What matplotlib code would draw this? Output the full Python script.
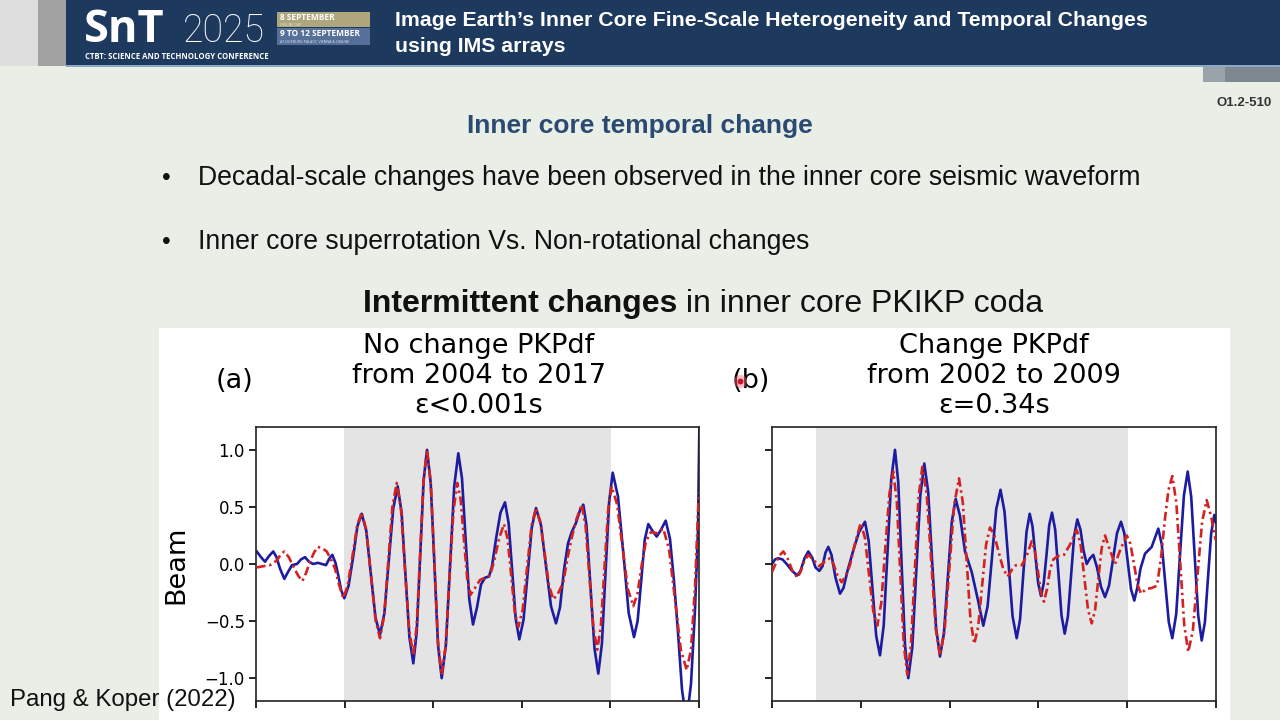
import matplotlib
matplotlib.use("Agg")
import matplotlib.pyplot as plt
from matplotlib.patches import Rectangle
import numpy as np

# ---------------- data (time in s, beam amplitude) ----------------
# Panel (a): No change PKPdf 2004 vs 2017
a_t_blue = [0.07, 0.5, 0.9, 1.3, 1.73, 2.05, 2.4, 2.83, 3.2, 3.6, 4.1, 4.5, 4.9, 5.3, 5.7, 6.2, 6.6, 7.0,
            7.35, 7.63, 7.95, 8.23, 8.52, 8.83, 9.26, 9.73, 10.14, 10.57, 11.03, 11.5, 11.95, 12.4, 12.84,
            13.28, 13.73, 14.17, 14.56, 14.95, 15.34, 15.73, 16.07, 16.42, 16.76, 17.1, 17.47, 17.84, 18.2,
            18.57, 18.99, 19.4, 19.82, 20.23, 20.6, 20.96, 21.33, 21.7, 22.1, 22.5, 22.9, 23.3, 23.6, 24.0,
            24.45, 24.9, 25.26, 25.62, 25.97, 26.33, 26.75, 27.17, 27.58, 28.0, 28.5, 29.0, 29.5, 30.0,
            30.4, 30.8, 31.2, 31.57, 32.0, 32.4, 32.73, 33.05, 33.45, 33.85, 34.23, 34.59, 34.95, 35.31,
            35.67, 36.2, 36.73, 37.27, 37.8, 38.16, 38.52, 38.87, 39.23, 39.65, 40.07, 40.5, 40.97, 41.4,
            41.8, 42.2, 42.6, 43.05, 43.5, 43.9, 44.2, 44.35]
a_blue = [0.11, 0.06, 0.02, 0.07, 0.11, 0.06, -0.04, -0.13, -0.07, -0.01, 0.00, 0.04, 0.06, 0.02, 0.00,
          0.01, 0.00, -0.01, 0.05, 0.08, 0.01, -0.10, -0.23, -0.30, -0.19, 0.07, 0.33, 0.44, 0.29, -0.10,
          -0.47, -0.62, -0.43, 0.03, 0.49, 0.68, 0.45, -0.10, -0.64, -0.87, -0.60, 0.07, 0.73, 1.00, 0.71,
          0.00, -0.71, -1.00, -0.71, -0.02, 0.68, 0.97, 0.75, 0.22, -0.31, -0.53, -0.38, -0.18, -0.12,
          -0.11, -0.02, 0.22, 0.45, 0.54, 0.36, -0.06, -0.48, -0.66, -0.49, -0.08, 0.32, 0.49, 0.34,
          -0.02, -0.37, -0.52, -0.38, -0.05, 0.18, 0.28, 0.36, 0.47, 0.52, 0.34, -0.20, -0.74, -0.96,
          -0.70, -0.08, 0.54, 0.80, 0.59, 0.10, -0.43, -0.64, -0.50, -0.15, 0.21, 0.35, 0.29, 0.24, 0.30,
          0.38, 0.22, -0.15, -0.60, -1.10, -1.38, -1.05, -0.40, 0.30, 1.30]
a_t_red = [0.07, 0.7, 1.4, 2.07, 2.45, 2.83, 3.28, 3.73, 4.2, 4.63, 5.0, 5.4, 5.8, 6.17, 6.6, 7.07, 7.5,
           7.9, 8.3, 8.73, 9.16, 9.65, 10.12, 10.57, 11.03, 11.5, 11.95, 12.4, 12.82, 13.23, 13.65, 14.07,
           14.49, 14.9, 15.32, 15.73, 16.07, 16.42, 16.76, 17.1, 17.47, 17.84, 18.2, 18.57, 18.96, 19.35,
           19.74, 20.13, 20.46, 20.79, 21.12, 21.45, 21.9, 22.4, 22.9, 23.4, 23.8, 24.3, 24.8, 25.16,
           25.52, 25.87, 26.23, 26.67, 27.11, 27.56, 28.0, 28.43, 28.87, 29.3, 29.73, 30.2, 30.73, 31.15,
           31.57, 32.07, 32.57, 32.96, 33.35, 33.74, 34.13, 34.49, 34.85, 35.21, 35.57, 36.11, 36.65,
           37.19, 37.73, 38.15, 38.55, 39.0, 39.5, 40.1, 40.73, 41.3, 41.9, 42.48, 43.07, 43.5, 43.9, 44.28]
a_red = [-0.03, -0.02, -0.01, 0.03, 0.08, 0.11, 0.06, -0.02, -0.10, -0.15, -0.08, 0.02, 0.10, 0.15, 0.14,
         0.11, 0.04, -0.04, -0.18, -0.30, -0.19, 0.07, 0.34, 0.45, 0.30, -0.10, -0.49, -0.65, -0.45, 0.03,
         0.51, 0.71, 0.49, -0.05, -0.58, -0.80, -0.54, 0.10, 0.74, 1.00, 0.72, 0.02, -0.68, -0.97, -0.72,
         -0.13, 0.46, 0.71, 0.57, 0.22, -0.13, -0.27, -0.21, -0.14, -0.12, -0.10, 0.02, 0.22, 0.35, 0.22,
         -0.10, -0.42, -0.55, -0.40, -0.03, 0.34, 0.49, 0.37, 0.09, -0.19, -0.31, -0.26, -0.16, 0.05, 0.23,
         0.40, 0.52, 0.33, -0.12, -0.56, -0.75, -0.54, -0.03, 0.47, 0.68, 0.52, 0.15, -0.22, -0.37, -0.26,
         -0.02, 0.20, 0.28, 0.27, 0.31, 0.13, -0.31, -0.75, -0.93, -0.75, -0.20, 0.63]

# Panel (b): Change PKPdf 2002 vs 2009
b_t_blue = [0.0, 0.3, 0.63, 1.05, 1.47, 2.0, 2.53, 2.85, 3.25, 3.63, 4.0, 4.35, 4.73, 5.05, 5.35, 5.63,
            5.95, 6.35, 6.8, 7.15, 7.55, 8.13, 8.7, 9.3, 9.67, 10.05, 10.42, 10.8, 11.17, 11.55, 11.92,
            12.3, 12.63, 12.96, 13.3, 13.63, 14.03, 14.43, 14.83, 15.23, 15.62, 16.01, 16.41, 16.8, 17.19,
            17.58, 17.98, 18.37, 18.8, 19.3, 19.97, 20.63, 21.13, 21.56, 21.99, 22.42, 22.85, 23.25, 23.66,
            24.06, 24.47, 24.8, 25.12, 25.45, 25.77, 26.05, 26.33, 26.62, 26.9, 27.17, 27.45, 27.72, 28.0,
            28.32, 28.64, 28.95, 29.27, 29.59, 29.9, 30.21, 30.53, 30.85, 31.15, 31.47, 31.8, 32.13, 32.5,
            32.9, 33.3, 33.7, 34.1, 34.5, 34.9, 35.23, 35.56, 35.9, 36.23, 36.55, 36.85, 37.3, 37.97, 38.3,
            38.63, 38.98, 39.33, 39.68, 40.03, 40.42, 40.8, 41.19, 41.57, 41.92, 42.27, 42.62, 42.97, 43.29,
            43.6, 43.92, 44.23, 44.4]
b_blue = [0.00, 0.04, 0.05, 0.04, 0.00, -0.06, -0.10, -0.06, 0.05, 0.11, 0.06, -0.03, -0.06, -0.02, 0.10,
          0.15, 0.08, -0.12, -0.26, -0.21, -0.06, 0.12, 0.28, 0.37, 0.20, -0.22, -0.63, -0.80, -0.54, 0.10,
          0.74, 1.00, 0.71, 0.00, -0.71, -1.00, -0.73, -0.06, 0.60, 0.88, 0.63, 0.03, -0.56, -0.81, -0.61,
          -0.12, 0.37, 0.57, 0.42, 0.11, -0.07, -0.33, -0.54, -0.37, 0.05, 0.48, 0.65, 0.46, 0.00, -0.46,
          -0.65, -0.49, -0.10, 0.28, 0.44, 0.33, 0.08, -0.17, -0.28, -0.17, 0.08, 0.34, 0.45, 0.30, -0.08,
          -0.45, -0.61, -0.46, -0.11, 0.24, 0.39, 0.30, 0.12, 0.00, 0.05, 0.08, -0.03, -0.20, -0.29, -0.19,
          0.04, 0.27, 0.37, 0.27, 0.03, -0.22, -0.32, -0.20, -0.04, 0.09, 0.15, 0.23, 0.31, 0.17, -0.17,
          -0.51, -0.65, -0.44, 0.08, 0.60, 0.81, 0.59, 0.07, -0.45, -0.67, -0.51, -0.12, 0.27, 0.43, 0.36]
b_t_red = [0.0, 0.3, 0.7, 1.13, 1.55, 2.05, 2.53, 2.85, 3.25, 3.63, 4.1, 4.73, 5.25, 5.8, 6.15, 6.55, 6.97,
           7.4, 7.8, 8.3, 8.87, 9.29, 9.7, 10.12, 10.53, 10.93, 11.33, 11.73, 12.13, 12.48, 12.83, 13.18,
           13.53, 13.9, 14.28, 14.65, 15.03, 15.47, 15.92, 16.36, 16.8, 17.27, 17.75, 18.22, 18.7, 19.08,
           19.47, 19.85, 20.23, 20.62, 21.01, 21.41, 21.8, 22.24, 22.68, 23.11, 23.55, 24.0, 24.4, 25.0,
           25.5, 25.97, 26.28, 26.59, 26.89, 27.2, 27.5, 27.8, 28.13, 28.6, 29.2, 29.8, 30.47, 30.85, 31.22,
           31.6, 31.97, 32.3, 32.63, 32.97, 33.3, 33.8, 34.3, 34.85, 35.47, 35.83, 36.2, 36.55, 36.9, 37.4,
           37.97, 38.5, 38.9, 39.3, 39.65, 40.03, 40.43, 40.83, 41.23, 41.63, 42.09, 42.55, 43.01, 43.47,
           43.9, 44.37]
b_red = [-0.07, -0.01, 0.07, 0.11, 0.05, -0.06, -0.12, -0.07, 0.03, 0.08, 0.04, -0.02, 0.02, 0.05, 0.00,
         -0.10, -0.16, -0.10, -0.01, 0.18, 0.36, 0.23, -0.09, -0.41, -0.54, -0.34, 0.14, 0.61, 0.81, 0.55,
         -0.08, -0.71, -0.97, -0.70, -0.06, 0.58, 0.85, 0.61, 0.03, -0.56, -0.80, -0.57, -0.02, 0.52, 0.75,
         0.54, 0.02, -0.49, -0.70, -0.55, -0.19, 0.17, 0.32, 0.25, 0.10, -0.04, -0.11, -0.05, -0.01, -0.01,
         0.08, 0.20, 0.12, -0.06, -0.25, -0.33, -0.22, -0.05, 0.04, 0.07, 0.08, 0.17, 0.30, 0.18, -0.11,
         -0.40, -0.52, -0.41, -0.13, 0.14, 0.25, 0.12, 0.00, 0.13, 0.25, 0.18, 0.00, -0.18, -0.26, -0.22,
         -0.21, -0.19, 0.05, 0.40, 0.65, 0.77, 0.54, 0.00, -0.54, -0.77, -0.58, -0.10, 0.37, 0.56, 0.42, 0.21]

a_window = (8.8, 35.5)
b_window = (4.4, 35.6)
y_ticks = [1.0, 0.5, 0.0, -0.5, -1.0]
y_ticklabels = ["1.0", "0.5", "0.0", "\u22120.5", "\u22121.0"]

BLUE = "#1c1ca0"
RED = "#d42222"
SPAN = "#e4e4e4"

fig = plt.figure(figsize=(12.8, 7.2), dpi=100)
W, H = 1280, 720

# ---------------- slide background (pixel coordinates) ----------------
bg = fig.add_axes([0, 0, 1, 1], zorder=0)
bg.set_xlim(0, W)
bg.set_ylim(H, 0)
bg.axis("off")
bg.add_patch(Rectangle((0, 0), W, H, color="#e9eee6", lw=0))
# header
bg.add_patch(Rectangle((0, 0), 38, 66, color="#dedede", lw=0))
bg.add_patch(Rectangle((38, 0), 28, 66, color="#a2a2a2", lw=0))
bg.add_patch(Rectangle((66, 0), W - 66, 66, color="#1d3a5e", lw=0))
bg.add_patch(Rectangle((66, 65), W - 66, 2, color="#8ea7c4", lw=0))
bg.add_patch(Rectangle((1203, 67), 77, 15, color="#9aa3aa", lw=0))
bg.add_patch(Rectangle((1225, 67), 55, 15, color="#7d8891", lw=0))

bg.text(84, 41.5, "SnT", color="white", fontsize=32.5, fontweight="bold", family="Open Sans",
        va="baseline", ha="left")
bg.text(183, 41.5, "2025", color="white", fontsize=27, fontweight="light", family="Roboto",
        va="baseline", ha="left")
bg.text(85, 56.5, "CTBT: SCIENCE AND TECHNOLOGY CONFERENCE", color="white", fontsize=5.6,
        fontweight="bold", family="Open Sans", va="center", ha="left")
bg.add_patch(Rectangle((277, 12), 93, 15, color="#aea67c", lw=0))
bg.add_patch(Rectangle((277, 28), 93, 17, color="#56709a", lw=0))
bg.text(280, 17, "8 SEPTEMBER", color="white", fontsize=6.0, fontweight="bold", family="Open Sans",
        va="center", ha="left")
bg.text(280, 24.8, "ONLINE DAY", color="#e8e4d0", fontsize=2.6, family="Open Sans", va="center", ha="left")
bg.text(280, 33.5, "9 TO 12 SEPTEMBER", color="white", fontsize=6.0, fontweight="bold", family="Open Sans",
        va="center", ha="left")
bg.text(280, 41.5, "AT HOFBURG PALACE, VIENNA & ONLINE", color="#dde4ee", fontsize=2.6, family="Open Sans",
        va="center", ha="left")

bg.text(395, 21, "Image Earth\u2019s Inner Core Fine-Scale Heterogeneity and Temporal Changes",
        color="white", fontsize=15.3, fontweight="bold", family="Liberation Sans", va="center", ha="left")
bg.text(395, 46, "using IMS arrays", color="white", fontsize=15.3, fontweight="bold",
        family="Liberation Sans", va="center", ha="left")
bg.text(1272, 103, "O1.2-510", color="#333333", fontsize=9.5, fontweight="bold",
        family="Liberation Sans", va="center", ha="right")

bg.text(640, 126, "Inner core temporal change", color="#2b4a72", fontsize=19, fontweight="bold",
        family="Liberation Sans", va="center", ha="center")
for yy, txt in [(177, "Decadal-scale changes have been observed in the inner core seismic waveform"),
                (241, "Inner core superrotation Vs. Non-rotational changes")]:
    bg.text(162, yy + 1, "\u2022", color="#111111", fontsize=18, family="Liberation Sans", va="center", ha="left")
    bg.text(198, yy + 1, txt, color="#111111", fontsize=19.2, family="Liberation Sans", va="center", ha="left")

t1 = bg.text(363, 304, "Intermittent changes", color="#111111", fontsize=23, fontweight="bold",
             family="Liberation Sans", va="center", ha="left")
bg.annotate(" in inner core PKIKP coda", xy=(1, 0.5), xycoords=t1, va="center", ha="left",
            color="#111111", fontsize=23, family="Liberation Sans")

# white figure panel
bg.add_patch(Rectangle((159, 328), 1071, 392, color="white", lw=0))

title_kw = dict(family="DejaVu Sans", fontsize=19.5, color="black", va="center", ha="center",
                linespacing=1.2)
bg.text(479, 376, "No change PKPdf\nfrom 2004 to 2017\n\u03b5<0.001s", **title_kw)
bg.text(994, 376, "Change PKPdf\nfrom 2002 to 2009\n\u03b5=0.34s", **title_kw)
bg.text(234, 381, "(a)", **title_kw)
bg.text(751, 381, "(b)", **title_kw)
bg.text(176, 565, "Beam", family="DejaVu Sans", fontsize=19.5, rotation=90, va="center", ha="center")
bg.text(10, 700, "Pang & Koper (2022)", color="#111111", fontsize=17.3, family="Liberation Sans",
        va="center", ha="left")


# ---------------- waveform panels ----------------
def panel(rect, tb, vb, tr, vr, window, xmax, show_labels):
    ax = fig.add_axes(rect, zorder=2)
    ax.set_facecolor("white")
    ax.axvspan(window[0], window[1], color=SPAN, lw=0, zorder=0)
    ax.plot(tb, vb, color=BLUE, lw=1.9, zorder=2, solid_joinstyle="round")
    ax.plot(tr, vr, color=RED, lw=1.9, ls=(0, (3.4, 1.4, 0.9, 1.4)), zorder=3)
    ax.set_xlim(0, xmax)
    ax.set_ylim(-1.2, 1.2)
    ax.set_xticks(np.linspace(0, xmax, 6))
    ax.set_yticks(y_ticks)
    ax.set_yticklabels(y_ticklabels if show_labels else [])
    ax.tick_params(axis="x", labelbottom=False, length=5, width=1.2)
    ax.tick_params(axis="y", length=5, width=1.2, labelsize=12, pad=3)
    for s in ax.spines.values():
        s.set_linewidth(1.2)
        s.set_color("#222222")
    return ax


panel([256 / W, 1 - 701 / H, 443 / W, 274 / H], a_t_blue, a_blue, a_t_red, a_red, a_window, 44.3, True)
panel([772 / W, 1 - 701 / H, 444 / W, 274 / H], b_t_blue, b_blue, b_t_red, b_red, b_window, 44.4, False)

# laser pointer dot
fg = fig.add_axes([0, 0, 1, 1], zorder=5)
fg.set_xlim(0, W)
fg.set_ylim(H, 0)
fg.axis("off")
fg.scatter([740], [381], s=90, color="#ff6b7a", alpha=0.45, lw=0)
fg.scatter([740], [381], s=18, color="#d01030", lw=0)

fig.savefig("out.png", dpi=100)
